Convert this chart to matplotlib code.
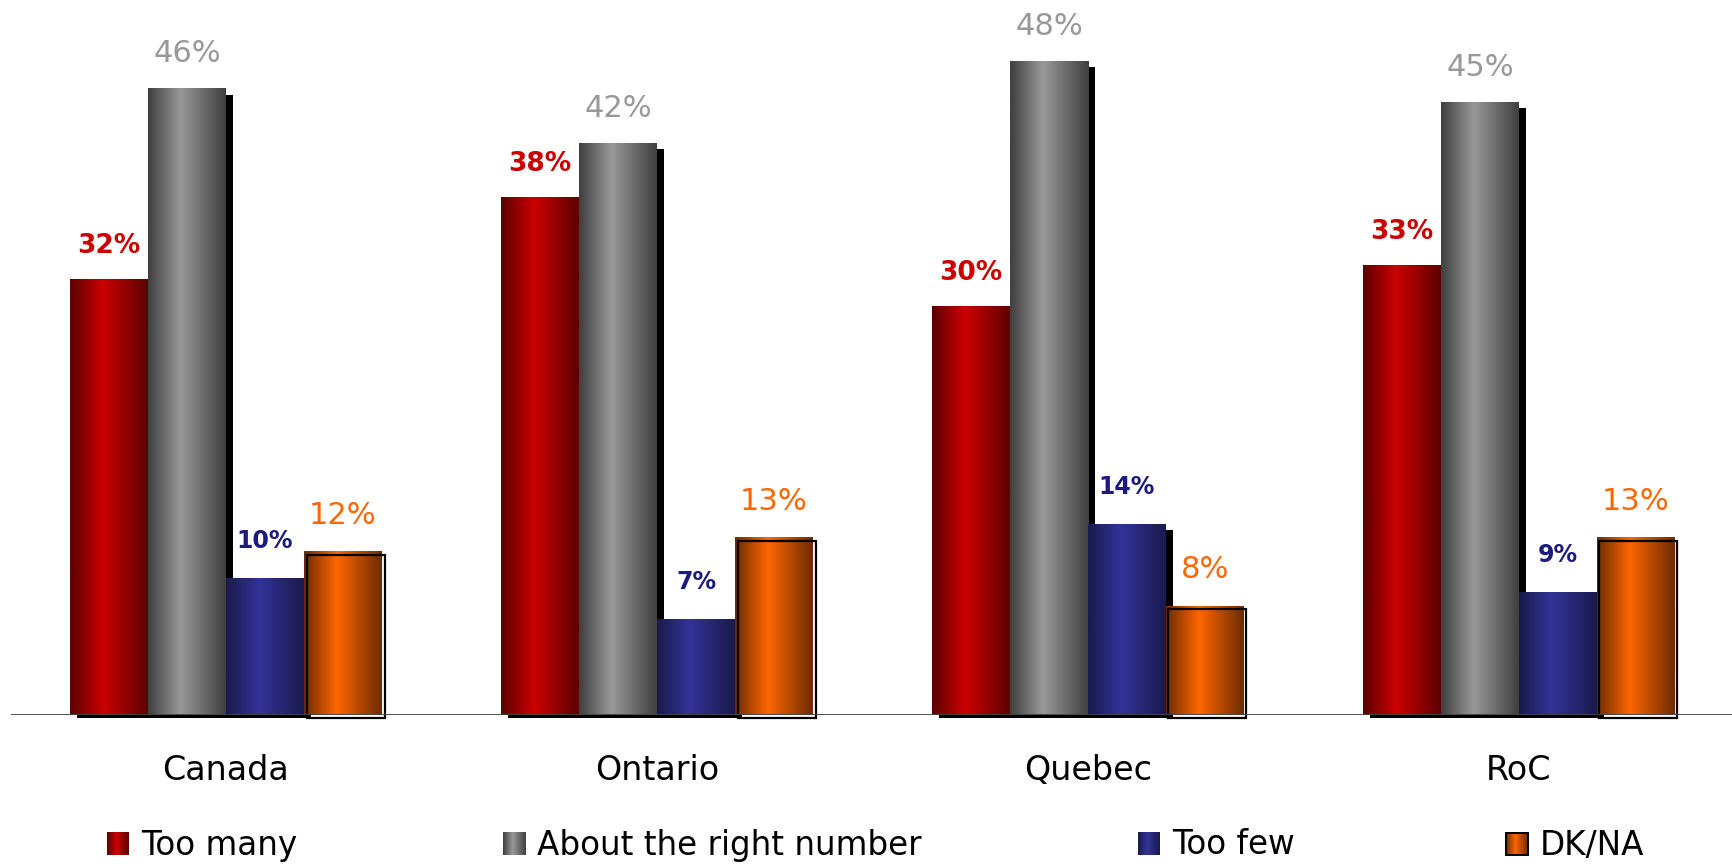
import numpy as np
import matplotlib.pyplot as plt
from matplotlib.patches import Rectangle

# data
categories = ['Canada', 'Ontario', 'Quebec', 'RoC']
series = ['Too many', 'About the right number', 'Too few', 'DK/NA']
too_many = [32, 38, 30, 33]
about_right = [46, 42, 48, 45]
too_few = [10, 7, 14, 9]
dk_na = [12, 13, 8, 13]
values = [too_many, about_right, too_few, dk_na]

# (edge, middle) colours for the cylinder-ish gradient of each series
edge_cols = ['#5c0000', '#404040', '#1a1a4c', '#6e2c00']
mid_cols = ['#cc0000', '#999999', '#333399', '#ff6600']
label_cols = ['#cc0000', '#999999', '#1a1a80', '#ff6600']
label_size = [19, 22, 17, 22]
label_weight = ['bold', 'normal', 'bold', 'normal']
label_gap = [19, 19, 22, 20]


def hex2rgb(h):
    return np.array([int(h[k:k + 2], 16) / 255 for k in (1, 3, 5)])


def gradient(edge, mid, n=64):
    e, m = hex2rgb(edge), hex2rgb(mid)
    t = np.linspace(0, 1, n)
    # bright band a bit left of centre, dark at both sides
    f = np.interp(t, [0, 0.42, 1], [0, 1, 0])
    return (e[None, :] + (m - e)[None, :] * f[:, None])[None, :, :]


W, H = 1732, 866
fig = plt.figure(figsize=(W / 100, H / 100), dpi=100)
base_px = 715
ax = fig.add_axes([0, (H - base_px) / H, 1, base_px / H])
ax.axis('off')

px_per_unit = 431
y_top = 52.5
xl = (-226 / px_per_unit, (W - 226) / px_per_unit)
px_x = 1 / px_per_unit
px_y = y_top / base_px
w = 78 / px_per_unit
grads = [gradient(edge_cols[j], mid_cols[j]) for j in range(4)]

for j, vals in enumerate(values):
    for i, v in enumerate(vals):
        x0 = i + (j - 2) * w
        if j < 3:
            ax.add_patch(Rectangle((x0 + 7 * px_x, -3 * px_y), w, v - 3 * px_y,
                                   facecolor='black', edgecolor='none', zorder=1,
                                   clip_on=False))
        ax.imshow(grads[j], extent=(x0, x0 + w, 0, v), aspect='auto', zorder=2,
                  interpolation='bilinear')
        if j == 3:
            ax.add_patch(Rectangle((x0 + 2.5 * px_x, -3 * px_y), w, v, fill=False,
                                   edgecolor='black', lw=1.6, zorder=3, clip_on=False))
        ax.annotate(f'{v}%', (x0 + w / 2, v), xytext=(0, label_gap[j]),
                    textcoords='offset points', ha='center', va='baseline',
                    color=label_cols[j], fontsize=label_size[j],
                    fontweight=label_weight[j])

ax.plot([11 * px_x + xl[0], xl[1]], [0, 0], color='#444444', lw=1.3, zorder=4,
        solid_capstyle='butt')

for i, c in enumerate(categories):
    ax.text(i, -55 * px_y, c, ha='center', va='center', fontsize=24)

# legend drawn by hand: entries sit at fixed pixel columns in the reference
leg_left_px = [107, 503, 1138, 1506]
for j, name in enumerate(series):
    lx = (leg_left_px[j] - 226) * px_x
    im = ax.imshow(grads[j], extent=(lx, lx + 22 * px_x, -140 * px_y, -118 * px_y),
                   aspect='auto', zorder=2, interpolation='bilinear')
    im.set_clip_on(False)
    if j == 3:
        ax.add_patch(Rectangle((lx, -140 * px_y), 22 * px_x, 22 * px_y, fill=False,
                               edgecolor='black', lw=1.4, zorder=3, clip_on=False))
    ax.text(lx + 34 * px_x, -130 * px_y, name, ha='left', va='center', fontsize=23.5,
            clip_on=False)

ax.set_xlim(*xl)
ax.set_ylim(0, y_top)

fig.savefig('out.png', dpi=100)
